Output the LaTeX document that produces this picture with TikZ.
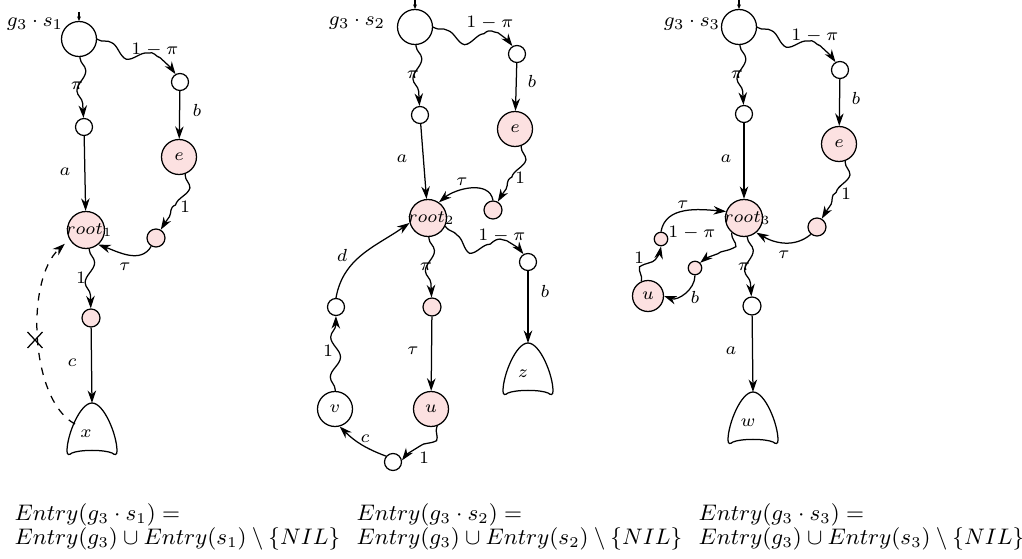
\documentclass[tikz,border=0pt]{standalone}
\usetikzlibrary{arrows.meta,decorations.pathmorphing}
\definecolor{statepink}{RGB}{252,225,225}
\tikzset{
  stw/.style={circle,draw,fill=white,inner sep=0pt,minimum size=14pt,font=\fontsize{6.8}{8}\selectfont},
  stp/.style={stw,fill=statepink},
  rootst/.style={stp,minimum size=14.8pt},
  dotw/.style={circle,draw,fill=white,inner sep=0pt,minimum size=6.8pt},
  dotp/.style={dotw,fill=statepink,minimum size=7.2pt},
  dotq/.style={dotw,fill=statepink,minimum size=5.4pt},
  rootlbl/.style={font=\fontsize{7.3}{8}\selectfont,inner sep=0pt,xshift=1.3pt},
  nlbl/.style={font=\fontsize{6.8}{8}\selectfont,inner sep=0pt},
  elbl/.style={font=\fontsize{7}{8}\selectfont,inner sep=0pt},
  startlbl/.style={font=\fontsize{8.2}{9}\selectfont,inner sep=0pt},
  entry/.style={font=\fontsize{8.85}{10}\selectfont,inner sep=0pt,anchor=base west},
  arr/.style={-{Stealth[length=5pt,width=3.4pt,inset=1.6pt]}},
  wavy/.style={arr,decorate,decoration={snake,amplitude=2pt,segment length=16pt,pre length=0.5pt,post length=3pt}},
  inarr/.style={-{Stealth[length=1.8pt,width=1.6pt]}},
  stub/.pic={\draw (0,0) .. controls (-12,0) and (-25,-32) .. (-25,-48)
      .. controls (-25,-52) and (-23,-52.5) .. (-20,-50)
      .. controls (-12,-46.5) and (12,-46.5) .. (20,-50)
      .. controls (23,-52.5) and (25,-52) .. (25,-48)
      .. controls (25,-32) and (12,0) .. (0,0) -- cycle;}
}
\begin{document}
\begin{tikzpicture}[x=0.4pt,y=0.4pt,line width=0.5pt]
\useasboundingbox (0,0) rectangle (1022,-559);

% ---------------- first composition g3 . s1 ----------------
\node[stw] (s1) at (79,-39) {};
\coordinate (s1in) at ([yshift=3.6pt]s1.north);
\draw[inarr] (s1in) -- (s1.north);
\node[startlbl] (s1l) at (35,-24) {$g_3\cdot s_1$};
\node[dotw] (p1a) at (84,-127) {};
\node[dotw] (p1b) at (180,-82) {};
\node[stp] (e1) at (179,-157) {$e$};
\node[dotp] (p1c) at (156,-238) {};
\node[rootst,label={[rootlbl]center:$root_1$}] (r1) at (86,-230) {};
\node[dotp] (p1d) at (91,-318) {};
\pic at (92,-403) {stub};
\coordinate (x1) at (92,-403);
\node[nlbl] (x1l) at (86,-434) {$x$};
\coordinate (x1side) at (75,-424);
\coordinate (cut) at (35,-340);

\draw[wavy] (s1) -- (p1a);
\draw[wavy] (s1.east) to[out=-35,in=120] (p1b);
\draw[arr] (p1a) -- (r1);
\draw[arr] (p1b) -- (e1);
\draw[wavy] (e1.-70) to[out=-90,in=60] (p1c);
\draw[arr] (p1c.-120) to[out=-120,in=-20] (r1.-50);
\draw[wavy] (r1.-80) -- (p1d);
\draw[arr] (p1d) -- (x1);
\draw[arr,dashed,shorten >=2.5pt] (x1side) .. controls (30,-400) and (25,-280) .. (r1.210);
\draw ([shift={(-7.5,-8)}]cut) -- ([shift={(7.5,8)}]cut);
\draw ([shift={(-7.5,8)}]cut) -- ([shift={(7.5,-8)}]cut);

\node[elbl] (l1a) at (155,-50) {$1-\pi$};
\node[elbl] (l1b) at (77,-86) {$\pi$};
\node[elbl] (l1c) at (65,-172) {$a$};
\node[elbl] (l1d) at (197,-110) {$b$};
\node[elbl] (l1e) at (185,-207) {$1$};
\node[elbl] (l1f) at (125,-267) {$\tau$};
\node[elbl] (l1g) at (81,-278) {$1$};
\node[elbl] (l1h) at (72,-363) {$c$};

% ---------------- second composition g3 . s2 ----------------
\node[stw] (s2) at (415,-27) {};
\coordinate (s2in) at ([yshift=3.6pt]s2.north);
\draw[inarr] (s2in) -- (s2.north);
\node[startlbl] (s2l) at (357,-23) {$g_3\cdot s_2$};
\node[dotw] (p2a) at (420,-115) {};
\node[dotw] (p2b) at (517,-54) {};
\node[stp] (e2) at (515,-129) {$e$};
\node[dotp] (p2c) at (493,-210) {};
\node[rootst,label={[rootlbl]center:$root_2$}] (r2) at (428,-218) {};
\node[dotw] (p2g) at (528,-262) {};
\pic at (528,-343) {stub};
\coordinate (z2) at (528,-343);
\node[nlbl] (z2l) at (523,-374) {$z$};
\node[dotp] (p2d) at (432,-307) {};
\node[stp] (u2) at (431,-409) {$u$};
\node[stw] (v2) at (335,-409) {$v$};
\node[dotw] (p2e) at (336,-307) {};
\node[dotw] (p2f) at (393,-462) {};

\draw[wavy] (s2) -- (p2a);
\draw[wavy] (s2.east) to[out=-35,in=120] (p2b);
\draw[arr] (p2a) -- (r2);
\draw[arr] (p2b) -- (e2);
\draw[wavy] (e2.-70) to[out=-90,in=60] (p2c);
\draw[arr] (p2c.north) to[out=100,in=40] (r2.55);
\draw[wavy] (r2.-25) to[out=-60,in=120] (p2g);
\draw[arr] (p2g) -- (z2);
\draw[wavy] (r2) -- (p2d);
\draw[arr] (p2d) -- (u2);
\draw[wavy] (u2.-70) to[out=-110,in=60] (p2f.10);
\draw[arr] (p2f.140) to[bend left=12] (v2.-75);
\draw[wavy] (v2) -- (p2e);
\draw[arr] (p2e.north) to[out=80,in=215] (r2.195);

\node[elbl] (l2a) at (490,-23) {$1-\pi$};
\node[elbl] (l2b) at (413,-75) {$\pi$};
\node[elbl] (l2c) at (402,-159) {$a$};
\node[elbl] (l2d) at (532,-81) {$b$};
\node[elbl] (l2e) at (520,-178) {$1$};
\node[elbl] (l2f) at (462,-182) {$\tau$};
\node[elbl] (l2g) at (502,-236) {$1-\pi$};
\node[elbl] (l2h) at (545,-291) {$b$};
\node[elbl] (l2i) at (426,-267) {$\pi$};
\node[elbl] (l2j) at (413,-351) {$\tau$};
\node[elbl] (l2k) at (342,-255) {$d$};
\node[elbl] (l2l) at (328,-351) {$1$};
\node[elbl] (l2m) at (365,-439) {$c$};
\node[elbl] (l2n) at (424,-458) {$1$};

% ---------------- third composition g3 . s3 ----------------
\node[stw] (s3) at (739,-27) {};
\coordinate (s3in) at ([yshift=3.6pt]s3.north);
\draw[inarr] (s3in) -- (s3.north);
\node[startlbl] (s3l) at (692,-24) {$g_3\cdot s_3$};
\node[dotw] (p3a) at (744,-114) {};
\node[dotw] (p3b) at (840,-70) {};
\node[stp] (e3) at (839,-144) {$e$};
\node[dotp] (p3c) at (817,-227) {};
\node[rootst,label={[rootlbl]center:$root_3$}] (r3) at (744,-218) {};
\node[dotq] (p3d) at (661,-239) {};
\node[dotq] (p3e) at (695,-268) {};
\node[stp,minimum size=12.4pt] (u3) at (648,-296) {$u$};
\node[dotw,minimum size=7.2pt] (p3f) at (752,-306) {};
\pic at (753,-392) {stub};
\coordinate (w3) at (753,-392);
\node[nlbl] (w3l) at (748,-423) {$w$};

\draw[wavy] (s3) -- (p3a);
\draw[wavy] (s3.east) to[out=-35,in=120] (p3b);
\draw[arr] (p3a) -- (r3);
\draw[arr] (p3b) -- (e3);
\draw[wavy] (e3.-70) to[out=-90,in=60] (p3c);
\draw[arr] (p3c.-130) to[out=-140,in=-30] (r3.-50);
\draw[wavy] (u3.115) to[out=80,in=-90] (p3d);
\draw[arr] (p3d.north) to[out=80,in=175] (r3.160);
\draw[wavy] (r3.-130) to[out=-90,in=45] (p3e);
\draw[arr] (p3e.south) to[out=-90,in=-20] (u3.east);
\draw[wavy] (r3.-80) -- (p3f);
\draw[arr] (p3f) -- (w3);

\node[elbl] (l3a) at (815,-36) {$1-\pi$};
\node[elbl] (l3b) at (737,-75) {$\pi$};
\node[elbl] (l3c) at (856,-98) {$b$};
\node[elbl] (l3d) at (726,-159) {$a$};
\node[elbl] (l3e) at (846,-194) {$1$};
\node[elbl] (l3f) at (683,-205) {$\tau$};
\node[elbl] (l3g) at (692,-233) {$1-\pi$};
\node[elbl] (l3h) at (639,-258) {$1$};
\node[elbl] (l3i) at (695,-297) {$b$};
\node[elbl] (l3j) at (744,-267) {$\pi$};
\node[elbl] (l3k) at (784,-255) {$\tau$};
\node[elbl] (l3l) at (731,-351) {$a$};

% ---------------- entry sets ----------------
\node[entry] (en1a) at (14,-521) {$Entry(g_3\cdot s_1) =$};
\node[entry] (en1b) at (14,-545) {$Entry(g_3)\cup Entry(s_1)\setminus\{NIL\}$};
\node[entry] (en2a) at (356,-521) {$Entry(g_3\cdot s_2) =$};
\node[entry] (en2b) at (356,-545) {$Entry(g_3)\cup Entry(s_2)\setminus\{NIL\}$};
\node[entry] (en3a) at (698,-521) {$Entry(g_3\cdot s_3) =$};
\node[entry] (en3b) at (698,-545) {$Entry(g_3)\cup Entry(s_3)\setminus\{NIL\}$};
\end{tikzpicture}
\end{document}
